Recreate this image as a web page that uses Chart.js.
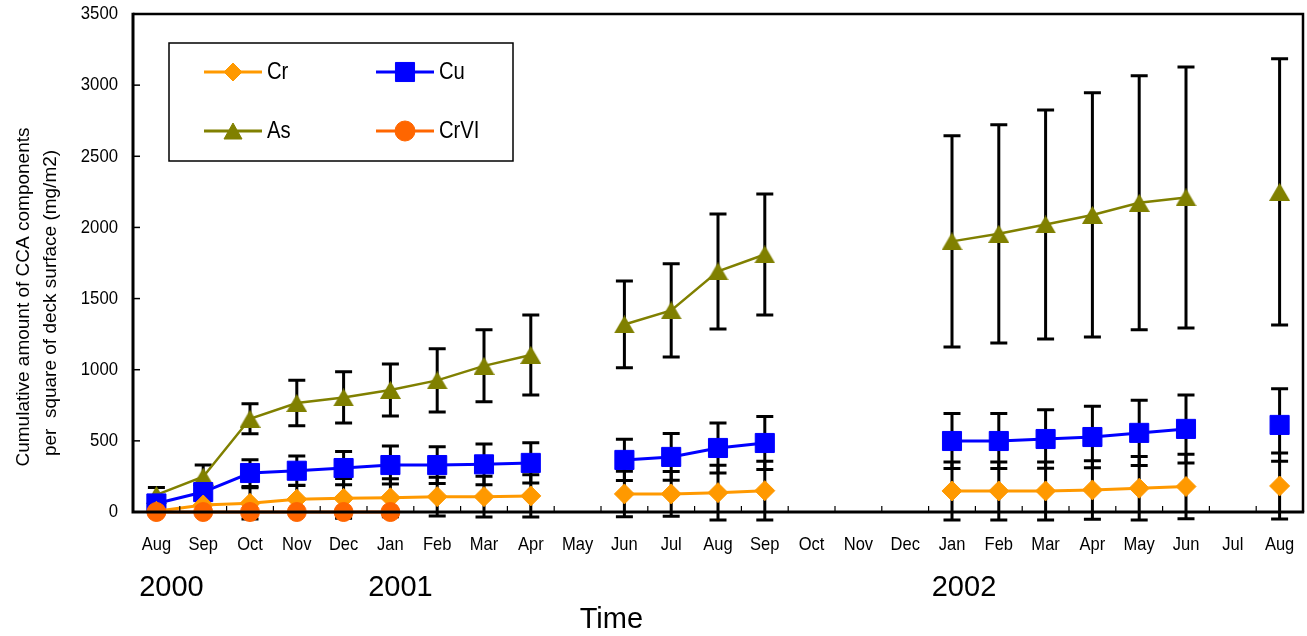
<!DOCTYPE html>
<html><head><meta charset="utf-8">
<script src="https://cdn.jsdelivr.net/npm/chart.js@4/dist/chart.umd.min.js"></script>
<style>html,body{margin:0;padding:0;background:#fff;overflow:hidden}canvas{display:block}</style>
</head><body><canvas id="c" width="1307" height="636" style="width:1307px;height:636px"></canvas>
<script>
// ---- data ----
const months = ['Aug','Sep','Oct','Nov','Dec','Jan','Feb','Mar','Apr','May','Jun','Jul','Aug','Sep','Oct','Nov','Dec','Jan','Feb','Mar','Apr','May','Jun','Jul','Aug'];
const yearLabels = ['2000','2001','2002'];
const yTicks = [0,500,1000,1500,2000,2500,3000,3500];
const seriesNames = ['Cr','Cu','As','CrVI'];
const crVals  = [5,49,61,90,96,100,108,108,113,null,127,127,136,150,null,null,null,148,148,148,155,167,179,null,183];
const crErr   = [10,60,110,98,140,134,136,143,148,null,160,157,192,206,null,null,null,204,204,204,206,223,227,null,232];
const cuVals  = [60,140,274,290,309,330,330,335,345,null,366,387,450,485,null,null,null,499,499,513,527,556,584,null,612];
const cuErr   = [20,60,94,103,117,134,129,143,141,null,145,164,176,187,null,null,null,194,194,206,216,230,239,null,255];
const asVals  = [120,248,655,766,805,858,925,1027,1104,null,1318,1417,1691,1810,null,null,null,1902,1955,2021,2088,2173,2211,null,2250];
const asErr   = [53,82,105,160,180,183,222,253,281,null,305,327,404,425,null,null,null,742,767,805,858,893,917,null,935];
const crviVals= [0,0,0,0,0,0,null,null,null,null,null,null,null,null,null,null,null,null,null,null,null,null,null,null,null];

const FONT = '"Liberation Sans", Arial, sans-serif';
const colors = {Cr:'#FF9900', Cu:'#0000FF', As:'#808000', CrVI:'#FF6600'};

function triImg(w,h,col){
  const c = document.createElement('canvas'); c.width=w; c.height=h;
  const g = c.getContext('2d'); g.fillStyle=col;
  g.beginPath(); g.moveTo(w/2,0); g.lineTo(w,h); g.lineTo(0,h); g.closePath(); g.fill();
  return c;
}
const triMarker = triImg(21,18,colors.As);
const styles = {Cr:{ps:'rectRot',r:10}, Cu:{ps:'rect',r:13.5}, As:{ps:triMarker,r:11}, CrVI:{ps:'circle',r:9.5}};

function ds(name, data, lw){
  return {label:name, data:data, borderColor:colors[name], backgroundColor:colors[name],
    pointBackgroundColor:colors[name], pointBorderColor:colors[name], borderWidth:lw,
    pointStyle:styles[name].ps, pointRadius:styles[name].r, pointBorderWidth:1,
    spanGaps:false, tension:0, clip:false, fill:false};
}

const errMap = {Cr:crErr, Cu:cuErr, As:asErr};

function drawMarker(ctx, ps, x, y, r, col){
  ctx.save();
  ctx.fillStyle = col; ctx.strokeStyle = col; ctx.lineWidth = 1;
  ctx.beginPath();
  if(ps==='circle'){ ctx.arc(x,y,r,0,Math.PI*2); }
  else if(ps==='rect'){ const s=r*Math.SQRT1_2; ctx.rect(x-s,y-s,2*s,2*s); }
  else if(ps==='rectRot'){ ctx.moveTo(x-r,y); ctx.lineTo(x,y-r); ctx.lineTo(x+r,y); ctx.lineTo(x,y+r); ctx.closePath(); }
  else if(ps==='triangle'){ ctx.moveTo(x,y-r*0.8); ctx.lineTo(x+0.9*r,y+0.8*r); ctx.lineTo(x-0.9*r,y+0.8*r); ctx.closePath(); }
  ctx.fill(); ctx.stroke();
  ctx.restore();
}

function sText(ctx, txt, x, y, size, sx, align){
  ctx.save();
  ctx.translate(x,y); ctx.scale(sx,1);
  ctx.font = size+'px '+FONT; ctx.fillStyle='#000';
  ctx.textAlign = align; ctx.textBaseline='middle';
  ctx.fillText(txt,0,0);
  ctx.restore();
}

const errPlugin = {
  id:'errbars',
  beforeDatasetsDraw(chart){
    const ctx = chart.ctx, xs = chart.scales.x, ys = chart.scales.y;
    ctx.save();
    ctx.strokeStyle='#000'; ctx.lineWidth=3; ctx.lineCap='butt';
    chart.data.datasets.forEach(d=>{
      const e = errMap[d.label]; if(!e) return;
      d.data.forEach((v,i)=>{
        if(v===null || e[i]===null) return;
        const x = xs.getPixelForValue(i);
        const y1 = ys.getPixelForValue(v+e[i]), y2 = ys.getPixelForValue(v-e[i]);
        ctx.beginPath();
        ctx.moveTo(x,y1); ctx.lineTo(x,y2);
        ctx.moveTo(x-8.5,y1); ctx.lineTo(x+8.5,y1);
        ctx.moveTo(x-8.5,y2); ctx.lineTo(x+8.5,y2);
        ctx.stroke();
      });
    });
    ctx.restore();
  }
};

const decoPlugin = {
  id:'deco',
  afterDraw(chart){
    const ctx = chart.ctx, xs = chart.scales.x, ys = chart.scales.y, a = chart.chartArea;
    ctx.save();
    ctx.strokeStyle='#000';
    ctx.lineWidth=2.5;
    ctx.beginPath(); ctx.moveTo(a.left,a.top); ctx.lineTo(a.right,a.top); ctx.lineTo(a.right,a.bottom); ctx.stroke();
    ctx.lineWidth=3;
    ctx.beginPath(); ctx.moveTo(a.left,a.top-1.2); ctx.lineTo(a.left,a.bottom); ctx.lineTo(a.right+1.2,a.bottom); ctx.stroke();
    ctx.lineWidth=1.5;
    yTicks.forEach(v=>{
      const y = ys.getPixelForValue(v);
      ctx.beginPath(); ctx.moveTo(a.left,y); ctx.lineTo(a.left+7,y); ctx.stroke();
      sText(ctx, String(v), 118, y, 19, 0.88, 'right');
    });
    ctx.lineWidth=1.2;
    for(let i=1;i<months.length;i++){
      const x = (xs.getPixelForValue(i-1)+xs.getPixelForValue(i))/2;
      ctx.beginPath(); ctx.moveTo(x,a.bottom); ctx.lineTo(x,a.bottom-6); ctx.stroke();
    }
    months.forEach((m,i)=>{ sText(ctx, m, xs.getPixelForValue(i), 545, 19, 0.87, 'center'); });
    const yIdx = [0,5,17], yDx = [15,10,12];
    yearLabels.forEach((t,k)=>{ sText(ctx, t, xs.getPixelForValue(yIdx[k])+yDx[k], 588, 29, 1, 'center'); });
    sText(ctx, 'Time', xs.getPixelForValue(10)-13, 620, 29, 1, 'center');
    ctx.save();
    ctx.translate(24,297); ctx.rotate(-Math.PI/2);
    ctx.font='19px '+FONT; ctx.fillStyle='#000'; ctx.textAlign='center'; ctx.textBaseline='middle';
    ctx.fillText('Cumulative amount of CCA components',0,0);
    ctx.restore();
    ctx.save();
    ctx.translate(51,303); ctx.rotate(-Math.PI/2);
    ctx.font='19px '+FONT; ctx.fillStyle='#000'; ctx.textAlign='center'; ctx.textBaseline='middle';
    ctx.fillText('per  square of deck surface (mg/m2)',0,0);
    ctx.restore();
    ctx.fillStyle='#fff'; ctx.fillRect(169,43,344,118);
    ctx.strokeStyle='#000'; ctx.lineWidth=1.5; ctx.strokeRect(169,43,344,118);
    const pos = {Cr:[204,72], Cu:[376,72], As:[204,131], CrVI:[376,131]};
    const lr = {Cr:9, Cu:13.5, As:10, CrVI:10};
    const lps = {Cr:'rectRot', Cu:'rect', As:'triangle', CrVI:'circle'};
    seriesNames.forEach(n=>{
      const [x,y] = pos[n];
      ctx.strokeStyle=colors[n]; ctx.lineWidth=3;
      ctx.beginPath(); ctx.moveTo(x,y); ctx.lineTo(x+58,y); ctx.stroke();
      drawMarker(ctx, lps[n], x+29, y, lr[n], colors[n]);
      sText(ctx, n, x+63, y+1, 23, 0.88, 'left');
    });
    ctx.restore();
  }
};

new Chart(document.getElementById('c'), {
  type:'line',
  data:{ labels: months, datasets:[
    ds('CrVI', crviVals, 3),
    ds('Cr', crVals, 3),
    ds('Cu', cuVals, 3),
    ds('As', asVals, 2.5)
  ]},
  options:{
    responsive:false, maintainAspectRatio:false, animation:false, devicePixelRatio:1,
    layout:{autoPadding:false, padding:{left:133, top:14, right:4, bottom:124}},
    plugins:{legend:{display:false}, tooltip:{enabled:false}},
    scales:{
      x:{type:'category', offset:true, grid:{display:false, drawTicks:false}, border:{display:false},
         ticks:{display:false}, afterFit(s){s.height=0;}},
      y:{min:0, max:3500, grid:{display:false, drawTicks:false}, border:{display:false},
         ticks:{display:false, stepSize:500}, afterFit(s){s.width=0;}}
    }
  },
  plugins:[errPlugin, decoPlugin]
});
</script>
</body></html>
